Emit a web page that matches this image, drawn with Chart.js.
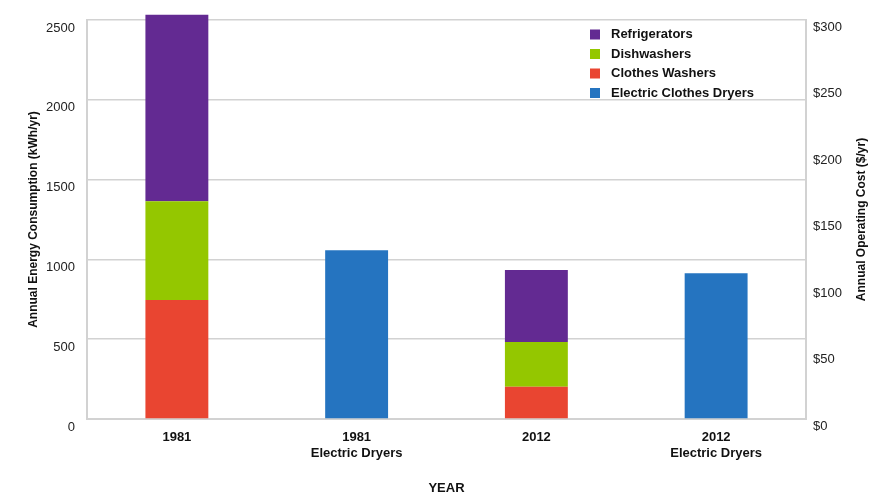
<!DOCTYPE html>
<html>
<head>
<meta charset="utf-8">
<script src="https://cdn.jsdelivr.net/npm/chart.js@4"></script>
<style>
  html, body { margin: 0; padding: 0; background: #fff; }
  #wrap { width: 883px; height: 502px; position: relative; }
</style>
</head>
<body>
<div id="wrap"><canvas id="chart"></canvas></div>
<script>
// categories (multi-line labels)
const categories = [["1981"], ["1981", "Electric Dryers"], ["2012"], ["2012", "Electric Dryers"]];

// kWh/yr per appliance
const clothesWashers = [746, null, 202, null];
const dishwashers = [618, null, 281, null];
const refrigerators = [1169, null, 450, null];
const electricDryers = [null, 1058, null, 914];

const energyTicks = [0, 500, 1000, 1500, 2000, 2500];
const costTicks = [0, 50, 100, 150, 200, 250, 300];

const FONT = "'Liberation Sans', Arial, Helvetica, sans-serif";
const GRID = "#d2d2d2";

// legend drawn inside the plot, top right
const insideLegend = {
  id: "insideLegend",
  afterDraw(chart) {
    const ctx = chart.ctx;
    const order = [2, 1, 0, 3];
    ctx.save();
    ctx.font = "bold 13px " + FONT;
    ctx.textBaseline = "middle";
    order.forEach((di, i) => {
      const ds = chart.data.datasets[di];
      const y = 34.5 + i * 19.5;
      ctx.fillStyle = ds.backgroundColor;
      ctx.fillRect(590, y - 5, 10, 10);
      ctx.fillStyle = "#111";
      ctx.fillText(ds.label, 611, y);
    });
    ctx.restore();
  }
};

// right title reads bottom-to-top like the left one
const rightTitle = {
  id: "rightTitle",
  afterDraw(chart) {
    const ctx = chart.ctx;
    const area = chart.chartArea;
    ctx.save();
    ctx.translate(862, (area.top + area.bottom) / 2);
    ctx.rotate(-Math.PI / 2);
    ctx.font = "bold 12px " + FONT;
    ctx.fillStyle = "#111";
    ctx.textAlign = "center";
    ctx.textBaseline = "middle";
    ctx.fillText("Annual Operating Cost ($/yr)", 0, 0);
    ctx.restore();
  }
};

new Chart(document.getElementById("chart"), {
  type: "bar",
  data: {
    labels: categories,
    datasets: [
      { label: "Clothes Washers", data: clothesWashers, backgroundColor: "#e94531" },
      { label: "Dishwashers", data: dishwashers, backgroundColor: "#94c700" },
      { label: "Refrigerators", data: refrigerators, backgroundColor: "#632a92" },
      { label: "Electric Clothes Dryers", data: electricDryers, backgroundColor: "#2574c0" }
    ].map(d => Object.assign(d, { barPercentage: 0.35, categoryPercentage: 1.0, clip: false, yAxisID: "y" }))
  },
  options: {
    responsive: true,
    maintainAspectRatio: false,
    animation: false,
    layout: { padding: { top: 20, left: 0, right: 0, bottom: 0 } },
    plugins: { legend: { display: false }, tooltip: { enabled: false } },
    scales: {
      x: {
        stacked: true,
        grid: { display: false },
        border: { color: GRID, width: 2 },
        ticks: { color: "#111", font: { family: FONT, size: 13, weight: "bold" }, padding: 3, maxRotation: 0 },
        title: { display: true, text: "YEAR", color: "#111", font: { family: FONT, size: 13, weight: "bold" }, padding: { bottom: 6 } },
        afterFit: s => { s.height = 83; }
      },
      y: {
        stacked: true,
        position: "left",
        min: 0,
        max: 2500,
        afterBuildTicks: s => { s.ticks = energyTicks.map(v => ({ value: v })); },
        grid: { color: GRID, lineWidth: 1.5, drawTicks: false },
        border: { color: GRID, width: 2 },
        ticks: { color: "#222", font: { family: FONT, size: 13 }, padding: 12, labelOffset: 8, callback: v => String(v) },
        title: { display: true, text: "Annual Energy Consumption (kWh/yr)", color: "#111", font: { family: FONT, size: 12, weight: "bold" }, padding: { top: 26 } },
        afterFit: s => { s.width = 87; }
      },
      y1: {
        position: "right",
        min: 0,
        max: 300,
        afterBuildTicks: s => { s.ticks = costTicks.map(v => ({ value: v })); },
        grid: { display: false, drawTicks: false },
        border: { color: GRID, width: 2 },
        ticks: { color: "#222", font: { family: FONT, size: 13 }, padding: 7, labelOffset: 7, callback: v => "$" + v },
        afterFit: s => { s.width = 77; }
      }
    }
  },
  plugins: [insideLegend, rightTitle]
});
</script>
</body>
</html>
